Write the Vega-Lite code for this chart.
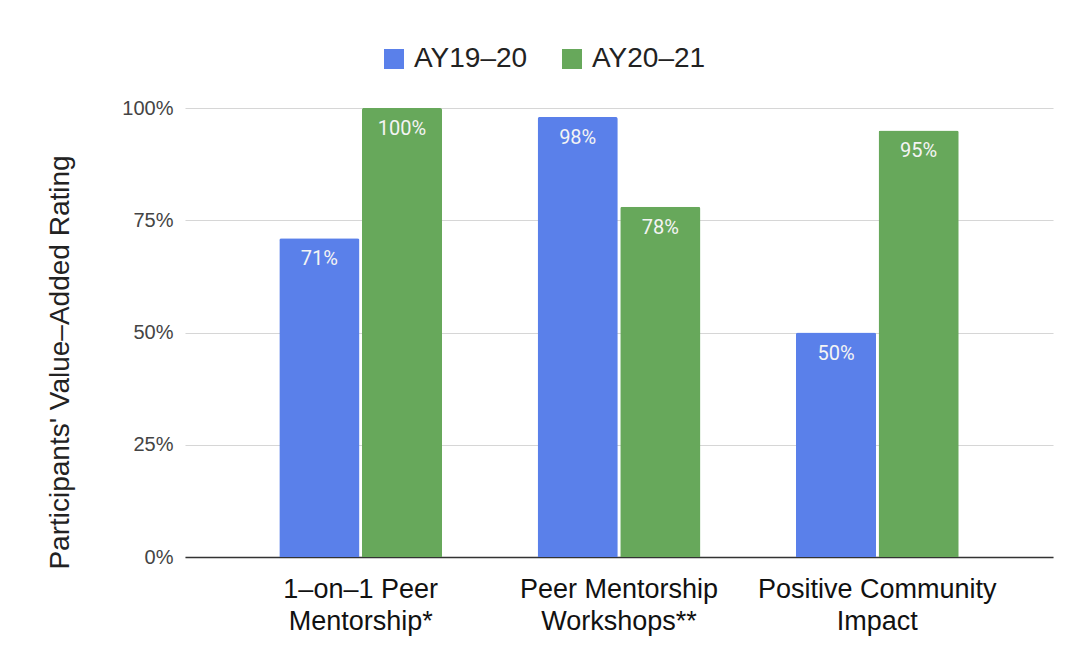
{
  "$schema": "https://vega.github.io/schema/vega-lite/v6.json",
  "width": 868,
  "height": 449,
  "autosize": "none",
  "padding": {"left": 185, "top": 108, "right": 20, "bottom": 108},
  "background": "white",
  "config": {"view": {"stroke": null}, "font": "Liberation Sans"},
  "data": {
    "values": [
      {"program": "1–on–1 Peer Mentorship*", "year": "AY19–20", "value": 0.71},
      {"program": "1–on–1 Peer Mentorship*", "year": "AY20–21", "value": 1.0},
      {"program": "Peer Mentorship Workshops**", "year": "AY19–20", "value": 0.98},
      {"program": "Peer Mentorship Workshops**", "year": "AY20–21", "value": 0.78},
      {"program": "Positive Community Impact", "year": "AY19–20", "value": 0.5},
      {"program": "Positive Community Impact", "year": "AY20–21", "value": 0.95}
    ]
  },
  "encoding": {
    "x": {
      "field": "program",
      "type": "nominal",
      "sort": ["1–on–1 Peer Mentorship*", "Peer Mentorship Workshops**", "Positive Community Impact"],
      "scale": {"paddingInner": 0.37, "paddingOuter": 0.365},
      "axis": {
        "title": null,
        "labelAngle": 0,
        "labelFontSize": 27,
        "labelColor": "#111",
        "labelPadding": 19,
        "labelLineHeight": 32,
        "labelBaseline": "top",
        "labelLimit": 0,
        "tickSize": 0,
        "domainColor": "#333",
        "domainWidth": 1.5,
        "labelExpr": "datum.label == '1–on–1 Peer Mentorship*' ? ['1–on–1 Peer', 'Mentorship*'] : datum.label == 'Peer Mentorship Workshops**' ? ['Peer Mentorship', 'Workshops**'] : ['Positive Community', 'Impact']"
      }
    },
    "xOffset": {"field": "year", "type": "nominal", "scale": {"paddingInner": 0.03}},
    "y": {
      "field": "value",
      "type": "quantitative",
      "scale": {"domain": [0, 1]},
      "axis": {
        "values": [0, 0.25, 0.5, 0.75, 1],
        "format": ".0%",
        "title": "Participants' Value–Added Rating",
        "titleFontSize": 28,
        "titleFontWeight": "normal",
        "titleColor": "#222",
        "titlePadding": 47,
        "titleY": 254,
        "labelFontSize": 20,
        "labelColor": "#444",
        "labelPadding": 12,
        "tickSize": 0,
        "domain": false,
        "gridColor": "#d6d6d6",
        "gridWidth": 1.2
      }
    }
  },
  "layer": [
    {
      "mark": {"type": "bar", "cornerRadiusTopLeft": 2, "cornerRadiusTopRight": 2},
      "encoding": {
        "color": {
          "field": "year",
          "type": "nominal",
          "scale": {"domain": ["AY19–20", "AY20–21"], "range": ["#5a80ea", "#67a85b"]},
          "legend": {
            "title": null,
            "orient": "none",
            "legendX": 195,
            "legendY": -63,
            "direction": "horizontal",
            "symbolType": "square",
            "symbolSize": 400,
            "symbolStrokeWidth": 0,
            "labelFontSize": 28,
            "labelColor": "#222",
            "labelOffset": 6,
            "columnPadding": 30
          }
        }
      }
    },
    {
      "mark": {"type": "text", "baseline": "top", "dy": 11, "color": "#f4f4f4", "font": "Roboto", "fontSize": 20},
      "encoding": {"text": {"field": "value", "type": "quantitative", "format": ".0%"}}
    }
  ]
}
